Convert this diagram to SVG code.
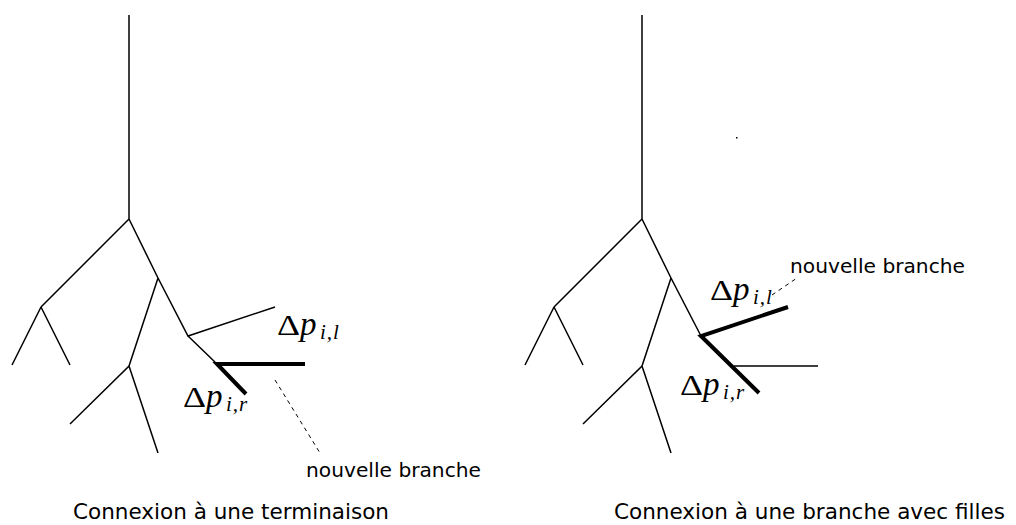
<svg xmlns="http://www.w3.org/2000/svg" width="1016" height="525" viewBox="0 0 1016 525">
<style>
.t{stroke:#000;stroke-width:1.5;fill:none;stroke-linecap:butt}
.k{stroke:#000;stroke-width:4;fill:none}
.d{stroke:#000;stroke-width:1;fill:none;stroke-dasharray:4,4}
.m{font-family:"Liberation Serif",serif;font-size:30px}
.p{font-family:"Liberation Serif",serif;font-size:33px;font-style:italic}
.s{font-family:"Liberation Serif",serif;font-size:21px;font-style:italic;letter-spacing:1px}
.c{font-family:"DejaVu Sans","Liberation Sans",sans-serif;font-size:21.5px}
.n{font-family:"DejaVu Sans","Liberation Sans",sans-serif;font-size:20px}
</style>
<rect width="1016" height="525" fill="#fff"/>
<g id="connectors">
<g id="left-tree">
<path class="t" d="M129,15V219L41,307M41,307L12,365M41,307L70,365M129,219L158,278L188,336L275,307M188,336L217,364M158,278L129,366L70,424M129,366L158,453"/>
<path class="k" d="M305,364H217L246,394"/>
<path class="d" d="M275,380L320,453"/>
</g>
<g id="right-tree">
<path class="t" d="M642,15V219L554,307M554,307L525,365M554,307L583,365M642,219L671,278L701,336M671,278L642,366L583,424M642,366L671,453M734,366H818"/>
<path class="k" d="M788,307L701,336L759,393"/>
<path class="d" d="M772,295L797,278"/>
<rect x="736" y="137" width="1.5" height="1.5" fill="#000"/>
</g>
</g>
<g id="label-left-l"><text class="m" x="277" y="335" textLength="23" lengthAdjust="spacingAndGlyphs">Δ</text><text class="p" x="300" y="335">p</text><text class="s" x="320" y="339">i,l</text></g>
<g id="label-left-r"><text class="m" x="183" y="407" textLength="23" lengthAdjust="spacingAndGlyphs">Δ</text><text class="p" x="206" y="407">p</text><text class="s" x="226" y="411">i,r</text></g>
<g id="label-left-new"><text class="n" x="306" y="477" textLength="175" lengthAdjust="spacingAndGlyphs">nouvelle branche</text></g>
<g id="label-right-l"><text class="m" x="710" y="300" textLength="23" lengthAdjust="spacingAndGlyphs">Δ</text><text class="p" x="733" y="300">p</text><text class="s" x="753" y="304">i,l</text></g>
<g id="label-right-r"><text class="m" x="680" y="395" textLength="23" lengthAdjust="spacingAndGlyphs">Δ</text><text class="p" x="703" y="395">p</text><text class="s" x="723" y="399">i,r</text></g>
<g id="label-right-new"><text class="n" x="790" y="273" textLength="175" lengthAdjust="spacingAndGlyphs">nouvelle branche</text></g>
<g id="caption-left"><text class="c" x="73" y="519" textLength="316" lengthAdjust="spacingAndGlyphs">Connexion à une terminaison</text></g>
<g id="caption-right"><text class="c" x="614" y="519" textLength="391" lengthAdjust="spacingAndGlyphs">Connexion à une branche avec filles</text></g>
</svg>
